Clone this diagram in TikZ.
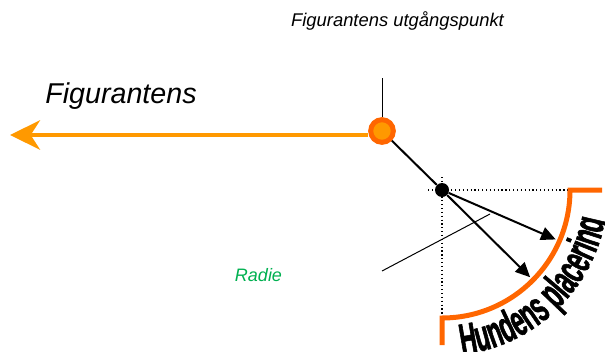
\documentclass[tikz,border=0pt]{standalone}
\usepackage{fontspec}
\setmainfont{Liberation Sans}
\newfontfamily\narrowfont[FakeStretch=0.53,FakeBold=1.2]{Liberation Sans Bold}
\usetikzlibrary{arrows.meta,decorations.text,calc}
\definecolor{figorange}{HTML}{FF9900}
\definecolor{hundorange}{HTML}{FF6600}
\definecolor{radiegreen}{HTML}{00B050}
\newcommand\hundfont{\narrowfont\fontsize{33}{33}\selectfont}

\begin{document}
\begin{tikzpicture}[x=0.75pt,y=0.75pt,
        start/.style={circle,draw=hundorange,fill=figorange,line width=3.75pt,minimum size=17pt,inner sep=0pt},
        dog/.style={circle,fill=black,minimum size=10.5pt,inner sep=0pt},
        route/.style={figorange,line width=3pt,-{Stealth[length=22.5pt,width=22pt,inset=7pt]}},
        aim/.style={line width=1.5pt,-{Triangle[length=11pt,width=10pt]}},
        helper/.style={dotted,line width=0.9pt},
        field/.style={hundorange,line width=3.75pt},
        txt/.style={font=\itshape,anchor=base}
    ]
    \clip (0,0) rectangle (605,351);

    \node[txt,font=\itshape\fontsize{13.8}{16}\selectfont] (title) at (397.5,324) {Figurantens utgångspunkt};
    \node[txt,font=\itshape\fontsize{21.5}{24}\selectfont] (fig) at (121,248) {Figurantens};
    \node[txt,radiegreen,font=\itshape\fontsize{13.5}{16}\selectfont] (radie) at (258.5,70) {Radie};

    \coordinate (tip) at (10,216);
    \coordinate (top) at (382,273);
    \draw[route] ([xshift=-1.9pt]382-11.5,216) -- (tip);

    \node[start] (S) at (382,220) {};
    \node[dog] (D) at (442,161) {};

    \draw[line width=0.75pt] (top) -- (S);
    \draw[line width=1.5pt] (S) -- (D);

    % help lines through the dog
    \coordinate (hL) at (428,161);
    \coordinate (hR) at (572,161);
    \coordinate (vT) at (442,174);
    \coordinate (vB) at (442,36);
    \draw[helper] (hL) -- (hR);
    \draw[helper] (vT) -- (vB);

    \draw[field] (602,161) -- (570,161) arc[start angle=0,end angle=-90,radius=128] -- (442,6);

    \coordinate (a1) at ($(D)+(-23.5:124)$);
    \coordinate (a2) at ($(D)+(-44.7:124)$);
    \draw[aim] (D) -- (a1);
    \draw[aim] (D) -- (a2);

    \coordinate (r1) at (382,80);
    \coordinate (r2) at (490,137);
    \draw[line width=0.75pt] (r1) -- (r2);

    \path[decorate,decoration={text along path,text={|\hundfont|Hundens placering},text align=left}]
        (D) ++(-83:166) arc[start angle=-83,end angle=-2,radius=166];
\end{tikzpicture}
\end{document}
